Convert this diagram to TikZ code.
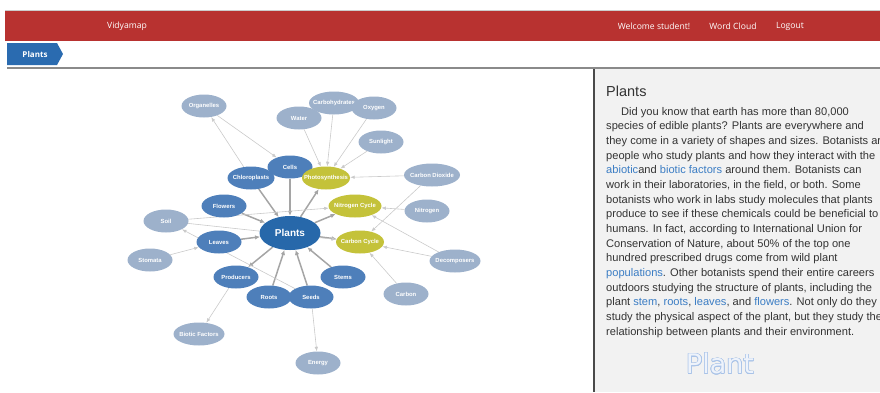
\documentclass[tikz,border=0pt]{standalone}
\usepackage{fontspec}
\setmainfont{Liberation Sans}
\newfontfamily\headfont{Open Sans}
\newfontfamily\wordfont{DejaVu Sans}
\usepackage{xcolor}
\usepackage{contour}
\usepackage{tikz}
\usetikzlibrary{arrows.meta,shapes.geometric,backgrounds}

\definecolor{headred}{HTML}{B83230}
\definecolor{topgray}{HTML}{CCCCCC}
\definecolor{tabblue}{HTML}{2A6BB0}
\definecolor{rulegray}{HTML}{8A8A8A}
\definecolor{panelgray}{HTML}{F2F2F2}
\definecolor{divider}{HTML}{4A4A4A}
\definecolor{bodygray}{HTML}{333333}
\definecolor{linkblue}{HTML}{3B7DC4}
\definecolor{wordblue}{HTML}{A9C3E8}
\definecolor{wordfill}{HTML}{EEF3FB}
\definecolor{paleblue}{HTML}{9DB1CB}
\definecolor{midblue}{HTML}{4E7FBA}
\definecolor{hubblue}{HTML}{2768AA}
\definecolor{olivenode}{HTML}{C4C23A}
\definecolor{arrowgray}{HTML}{A5A5A5}
\definecolor{linegray}{HTML}{CACACA}

\contourlength{0.7pt}

\begin{document}
\begin{tikzpicture}[
  x=1pt, y=-1pt,
  navtext/.style={text=white, font=\headfont\fontsize{8.6}{10}\selectfont, inner sep=0pt},
  hub/.style={ellipse, fill=hubblue, text=white, font=\bfseries\fontsize{10}{12}\selectfont, minimum width=61pt, minimum height=34pt, inner sep=0pt},
  concept/.style={ellipse, fill=midblue, text=white, font=\bfseries\fontsize{5.9}{7}\selectfont, minimum width=45pt, minimum height=23pt, inner xsep=-12pt, inner ysep=0pt},
  related/.style={concept, fill=paleblue},
  process/.style={concept, fill=olivenode},
  strong/.style={-{Latex[length=5pt,width=4.5pt]}, line width=1.5pt, draw=arrowgray},
  weak/.style={-{Latex[length=4.5pt,width=3.5pt]}, line width=0.6pt, draw=linegray}
]

\useasboundingbox (0,0) rectangle (880,392);

% Header bar
\draw[topgray, line width=1pt] (5,10.5) -- (880,10.5);
\fill[headred] (5,11) rectangle (880,41);
\node[navtext] (brand) at (127,26) {Vidyamap};
\node[navtext] (welcome) at (654,26) {Welcome student!};
\node[navtext] (cloud) at (733,26) {Word Cloud};
\node[navtext] (logout) at (790,26) {Logout};

% Breadcrumb
\fill[tabblue] (7,43) -- (57,43) -- (63,54) -- (57,65) -- (7,65) -- cycle;
\node[navtext, font=\headfont\bfseries\fontsize{8}{10}\selectfont] (crumb) at (35,54) {Plants};
\draw[rulegray, line width=1.2pt] (7,68) -- (880,68);

% Text panel
\fill[panelgray] (595,69) rectangle (880,392);
\draw[divider, line width=2pt] (594,69) -- (594,392);
\node[anchor=base west, inner sep=0pt, text=bodygray, font=\fontsize{14.5}{16}\selectfont] (heading) at (606,96) {Plants};
\node[anchor=north west, inner sep=0pt, align=left, text=bodygray, font=\fontsize{11.1}{14.67}\selectfont] (story) at (606,107) {
  \hspace*{15pt}Did you know that earth has more than 80,000\\
  species of edible plants? Plants are everywhere and\\
  they come in a variety of shapes and sizes. Botanists are\\
  people who study plants and how they interact with the\\
  \textcolor{linkblue}{abiotic}and \textcolor{linkblue}{biotic factors} around them. Botanists can\\
  work in their laboratories, in the field, or both. Some\\
  botanists who work in labs study molecules that plants\\
  produce to see if these chemicals could be beneficial to\\
  humans. In fact, according to International Union for\\
  Conservation of Nature, about 50\% of the top one\\
  hundred prescribed drugs come from wild plant\\
  \textcolor{linkblue}{populations}. Other botanists spend their entire careers\\
  outdoors studying the structure of plants, including the\\
  plant \textcolor{linkblue}{stem}, \textcolor{linkblue}{roots}, \textcolor{linkblue}{leaves}, and \textcolor{linkblue}{flowers}. Not only do they\\
  study the physical aspect of the plant, but they study the\\
  relationship between plants and their environment.
};
\node[inner sep=0pt, font=\wordfont\fontsize{27}{30}\selectfont] (wordart) at (720,364) {\contour{wordblue}{\textcolor{wordfill}{Plant}}};

% Outer concepts
\node[related] (organelles) at (204,106) {Organelles};
\node[related] (water) at (299,118) {Water};
\node[related, minimum width=50pt] (carbs) at (334,103) {Carbohydrates};
\node[related] (oxygen) at (374,108) {Oxygen};
\node[related] (sunlight) at (381,142) {Sunlight};
\node[related, minimum width=56pt] (dioxide) at (432,175) {Carbon Dioxide};
\node[related] (nitrogen) at (427,211) {Nitrogen};
\node[related, minimum width=51pt] (decomposers) at (455,261) {Decomposers};
\node[related] (carbon) at (406,294) {Carbon};
\node[related] (energy) at (318,363) {Energy};
\node[related, minimum width=51pt] (biotic) at (199,334) {Biotic Factors};
\node[related] (stomata) at (150,260) {Stomata};
\node[related] (soil) at (166,221) {Soil};

% Plant parts
\node[concept] (cells) at (290,167) {Cells};
\node[concept, minimum width=47pt] (chloro) at (251,178) {Chloroplasts};
\node[concept] (flowers) at (224,206) {Flowers};
\node[concept] (leaves) at (219,242) {Leaves};
\node[concept] (producers) at (236,277) {Producers};
\node[concept] (roots) at (269,297) {Roots};
\node[concept] (seeds) at (311,297) {Seeds};
\node[concept] (stems) at (343,277) {Stems};

% Processes
\node[process, minimum width=48pt] (photo) at (326,178) {Photosynthesis};
\node[process, minimum width=53pt] (ncycle) at (355,206) {Nitrogen Cycle};
\node[process, minimum width=48pt] (ccycle) at (360,242) {Carbon Cycle};

\node[hub] (plants) at (290,233) {Plants};

\begin{scope}[on background layer]
% Links to the hub
\draw[strong] (chloro) -- (plants);
\draw[strong] (cells) -- (plants);
\draw[strong] (flowers) -- (plants);
\draw[strong] (leaves) -- (plants);
\draw[strong] (roots) -- (plants);
\draw[strong] (seeds) -- (plants);
\draw[strong] (stems) -- (plants);
\draw[strong] (plants) -- (producers);
\draw[strong] (plants) -- (photo);
\draw[strong] (plants) -- (ncycle);
\draw[strong] (plants) -- (ccycle);

% Other links
\draw[weak] (chloro) -- (organelles);
\draw[weak] (organelles) -- (cells);
\draw[weak] (water) -- (photo);
\draw[weak] (carbs) -- (photo);
\draw[weak] (oxygen) -- (photo);
\draw[weak] (sunlight) -- (photo);
\draw[weak] (dioxide) -- (photo);
\draw[weak] (dioxide) -- (ccycle);
\draw[weak] (nitrogen) -- (ncycle);
\draw[weak] (decomposers) -- (ncycle);
\draw[weak] (decomposers) -- (ccycle);
\draw[weak] (carbon) -- (ccycle);
\draw[weak] (soil) -- (ncycle);
\draw[weak] (soil) -- (ccycle);
\draw[weak] (seeds) -- (soil);
\draw[weak] (stomata) -- (leaves);
\draw[weak] (producers) -- (biotic);
\draw[weak] (seeds) -- (energy);
\end{scope}

\end{tikzpicture}
\end{document}
